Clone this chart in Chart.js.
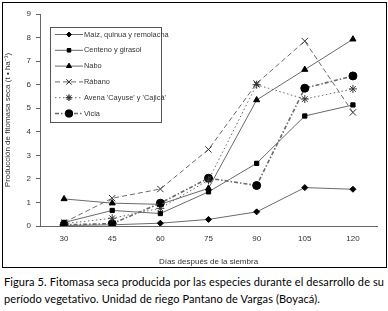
<!DOCTYPE html>
<html>
<head>
<meta charset="utf-8">
<script src="https://cdn.jsdelivr.net/npm/chart.js@4"></script>
<style>
  body { margin: 0; background: #fff; width: 388px; height: 311px; overflow: hidden; position: relative; }
  #box { position: absolute; left: 2px; top: 2px; width: 383px; height: 264px; border: 1px solid #000; }
  #box canvas { position: absolute; left: 0; top: 0; }
  #caption { position: absolute; left: 4px; top: 273px; width: 384px; font-family: Lato, sans-serif; font-size: 11px; line-height: 17px; color: #000; white-space: nowrap; letter-spacing: 0.1px; }
</style>
</head>
<body>
<div id="box"><canvas id="chart" width="383" height="264"></canvas></div>
<div id="caption">Figura 5. Fitomasa seca producida por las especies durante el desarrollo de su<br>período vegetativo. Unidad de riego Pantano de Vargas (Boyacá).</div>
<script>
// days after sowing
var days = ["30", "45", "60", "75", "90", "105", "120"];

// dry biomass per species (t/ha)
var maiz = [0.02, 0.05, 0.12, 0.28, 0.6, 1.63, 1.56];
var centeno = [0.15, 0.66, 0.53, 1.45, 2.66, 4.67, 5.14];
var nabo = [1.15, 0.97, 0.92, 1.6, 5.35, 6.64, 7.93];
var rabano = [0.15, 1.18, 1.57, 3.25, 6.05, 7.85, 4.82];
var avena = [0.1, 0.33, 0.75, 1.95, 6.0, 5.39, 5.82];
var vicia = [0.05, 0.1, 0.97, 2.03, 1.72, 5.85, 6.37];

var names = ["Maíz, quinua y remolacha", "Centeno y girasol", "Nabo", "Rábano", "Avena 'Cayuse' y 'Cajicá'", "Vicia"];

var lineCol = "#6a6a6a";
var font = "'Liberation Sans', Arial, sans-serif";

function ds(label, values, dash, style, r, width) {
  return {
    label: label,
    data: values,
    borderColor: lineCol,
    borderWidth: width || 1,
    borderDash: dash,
    pointStyle: style,
    pointRadius: r,
    pointBackgroundColor: "#000",
    pointBorderColor: style == "crossRot" || style == "star" ? "#333" : "#000",
    pointBorderWidth: 1,
    fill: false,
    tension: 0
  };
}

// legend drawn inside the plot, like the printed figure
var boxLegend = {
  id: "boxLegend",
  afterDraw: function (chart) {
    var c = chart.ctx;
    var x0 = 47, y0 = 24, w = 111, h = 95;
    c.save();
    c.strokeStyle = "#555";
    c.lineWidth = 1;
    c.strokeRect(x0 + 0.5, y0 + 0.5, w, h);
    chart.data.datasets.forEach(function (d, i) {
      var y = y0 + 7.5 + i * 15.8;
      c.beginPath();
      c.setLineDash(d.borderDash || []);
      c.strokeStyle = d.borderColor;
      c.lineWidth = d.borderWidth;
      c.moveTo(x0 + 5, y);
      c.lineTo(x0 + 33, y);
      c.stroke();
      c.setLineDash([]);
      Chart.helpers.drawPoint(c, {
        pointStyle: d.pointStyle,
        radius: d.pointRadius * 0.8,
        rotation: 0,
        borderWidth: 1
      }, x0 + 19, y);
      c.fillStyle = "#000";
      c.strokeStyle = d.pointBorderColor;
      c.fill();
      c.stroke();
      c.fillStyle = "#333";
      c.font = "7.4px " + font;
      c.textBaseline = "middle";
      c.fillText(d.label, x0 + 34, y);
    });
    c.restore();
  }
};

var ctx = document.getElementById("chart");

var chart = new Chart(ctx, {
  type: "line",
  data: {
    labels: days,
    datasets: [
      ds(names[0], maiz, [], "rectRot", 3),
      ds(names[1], centeno, [], "rect", 3),
      ds(names[2], nabo, [], "triangle", 3.5),
      ds(names[3], rabano, [5, 3], "crossRot", 4.5),
      ds(names[4], avena, [1.5, 2.5], "star", 4),
      ds(names[5], vicia, [4, 2, 1.5, 2], "circle", 4, 1.6)
    ]
  },
  options: {
    responsive: false,
    animation: false,
    layout: { padding: { top: 11, right: 9, left: 0, bottom: 0 } },
    plugins: {
      legend: { display: false },
      tooltip: { enabled: false }
    },
    scales: {
      x: {
        offset: true,
        grid: { display: false, drawOnChartArea: false, offset: true, tickLength: 4, color: "#666" },
        border: { color: "#666" },
        ticks: { color: "#333", font: { family: font, size: 8 }, padding: 4, maxRotation: 0 },
        title: { display: true, text: "Días después de la siembra", color: "#333", font: { family: font, size: 8 }, padding: { top: 9, bottom: 0 } },
        afterFit: function (s) { s.height = 41; }
      },
      y: {
        min: 0,
        max: 9,
        grid: { drawOnChartArea: false, tickLength: 4, color: "#666" },
        border: { color: "#666" },
        ticks: { stepSize: 1, color: "#333", font: { family: font, size: 8 }, padding: 5 },
        title: { display: true, text: "Producción de fitomasa seca (t • ha⁻¹)", color: "#333", font: { family: font, size: 8 }, padding: { top: 0, bottom: 2 } },
        afterFit: function (s) { s.width = 37; }
      }
    }
  },
  plugins: [boxLegend]
});
</script>
</body>
</html>
